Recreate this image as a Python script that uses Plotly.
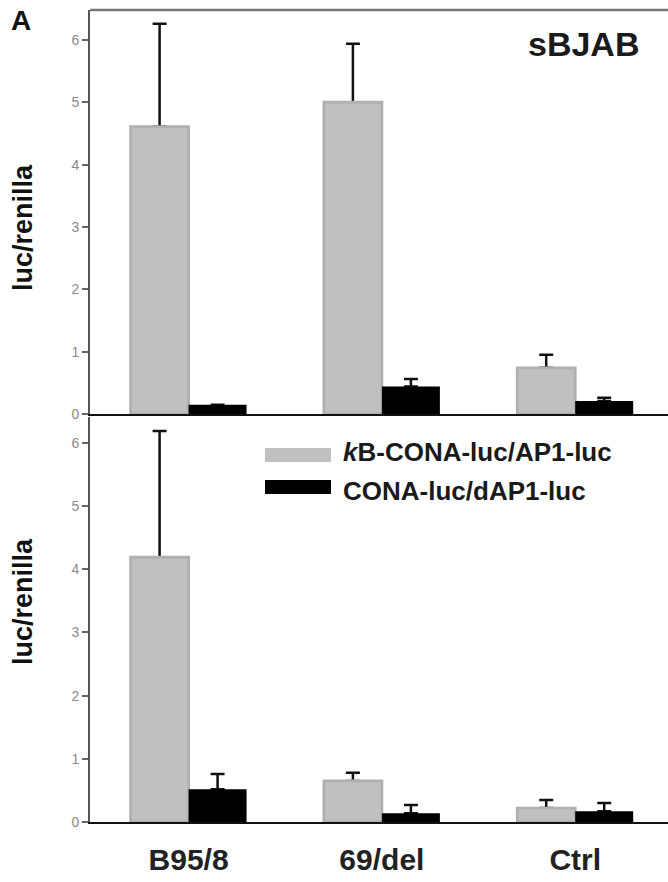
import plotly.graph_objects as go

categories = ["B95/8", "69/del", "Ctrl"]
series_names = ["<i>k</i>B-CONA-luc/AP1-luc", "CONA-luc/dAP1-luc"]

top_kb = [4.61, 5.00, 0.74]
top_kb_err = [1.65, 0.94, 0.21]
top_cona = [0.15, 0.44, 0.21]
top_cona_err = [0.0, 0.12, 0.05]

bot_kb = [4.19, 0.65, 0.22]
bot_kb_err = [2.00, 0.13, 0.13]
bot_cona = [0.52, 0.14, 0.17]
bot_cona_err = [0.24, 0.13, 0.13]

y_ticks = [0, 1, 2, 3, 4, 5, 6]

GRAY = "#c0c0c0"
BLACK = "#000000"
W, H = 668, 882
ML, MR, MT, MB = 90, 0, 10, 60
PW = W - ML - MR
PH = H - MT - MB
FONT = "Liberation Sans, Arial, sans-serif"


def px_x(px):
    return (px - ML) / PW


def px_y(py):
    return (H - MB - py) / PH


fig = go.Figure()

err_style = dict(type="data", symmetric=False, color="#111", thickness=2.5, width=7)

panels = [
    ("x", "y", "y3", top_kb, top_kb_err, top_cona, top_cona_err),
    ("x2", "y2", "y4", bot_kb, bot_kb_err, bot_cona, bot_cona_err),
]
for xa, ya_err, ya_bar, kb, kbe, co, coe in panels:
    # error bars on the base subplot (drawn underneath)
    for vals, errs, grp in ((kb, kbe, "kb"), (co, coe, "cona")):
        fig.add_trace(go.Bar(
            x=categories, y=vals, offsetgroup=grp, xaxis=xa, yaxis=ya_err,
            marker=dict(color="rgba(0,0,0,0)", line=dict(width=0)),
            error_y=dict(array=errs, arrayminus=[0] * len(errs), **err_style),
            showlegend=False, hoverinfo="skip",
        ))
    # real bars on the overlaying subplot (drawn on top, hiding the lower caps)
    fig.add_trace(go.Bar(
        x=categories, y=kb, name=series_names[0], offsetgroup="kb", xaxis=xa, yaxis=ya_bar,
        marker=dict(color=GRAY, line=dict(color="#b0b0b0", width=2.8)), showlegend=False,
    ))
    fig.add_trace(go.Bar(
        x=categories, y=co, name=series_names[1], offsetgroup="cona", xaxis=xa, yaxis=ya_bar,
        marker=dict(color=BLACK, line=dict(width=0)), showlegend=False,
    ))

xcommon = dict(range=[-0.51, 2.48], showline=True, linecolor="#111", linewidth=2, ticks="", showgrid=False,
               zeroline=False, domain=[0, 1])
ycommon = dict(showline=True, linecolor="#555", linewidth=2, ticks="outside", ticklen=6, tickwidth=1.5,
               tickcolor="#666", tickvals=y_ticks, showgrid=False, zeroline=False,
               tickfont=dict(size=14, color="#8a8a8a", family=FONT))
top_range = [0, 6.48]
bot_range = [0, 6.41]
top_dom = [px_y(414), 1]
bot_dom = [0, px_y(417)]

fig.update_layout(
    width=W, height=H,
    margin=dict(l=ML, r=MR, t=MT, b=MB),
    paper_bgcolor="white", plot_bgcolor="white",
    barmode="group", bargap=0.4, bargroupgap=0,
    font=dict(family=FONT),
    xaxis=dict(anchor="y", showticklabels=False, **xcommon),
    xaxis2=dict(anchor="y2", showticklabels=True, tickfont=dict(size=30, color="#222", family=FONT),
                tickprefix="<b>", ticksuffix="</b>", ticklabelstandoff=10, **xcommon),
    yaxis=dict(anchor="x", domain=top_dom, range=top_range, **ycommon),
    yaxis2=dict(anchor="x2", domain=bot_dom, range=bot_range, **ycommon),
    yaxis3=dict(anchor="x", overlaying="y", range=top_range, visible=False),
    yaxis4=dict(anchor="x2", overlaying="y2", range=bot_range, visible=False),
)

# top border of top panel
fig.add_shape(type="line", xref="paper", yref="paper", x0=0, x1=1, y0=1, y1=1,
              line=dict(color="#777", width=2.5))

# y axis titles
for cy in (228, 602):
    fig.add_annotation(text="<b>luc/renilla</b>", xref="paper", yref="paper", x=px_x(23), y=px_y(cy),
                       textangle=-90, showarrow=False, font=dict(size=27, color="#111"),
                       xanchor="center", yanchor="middle")

# panel letter
fig.add_annotation(text="<b>A</b>", xref="paper", yref="paper", x=px_x(21), y=px_y(20), showarrow=False,
                   font=dict(size=28, color="#111"), xanchor="center", yanchor="middle")

# cell label
fig.add_annotation(text="<b>sBJAB</b>", xref="paper", yref="paper", x=px_x(641), y=px_y(44), showarrow=False,
                   font=dict(size=34, color="#1a1a1a"), xanchor="right", yanchor="middle")

# legend (drawn manually)
legend_rows = [(GRAY, series_names[0], 455, 452), (BLACK, series_names[1], 487, 491)]
for color, name, sy, ty in legend_rows:
    fig.add_shape(type="rect", xref="paper", yref="paper", x0=px_x(265), x1=px_x(331),
                  y0=px_y(sy + 7), y1=px_y(sy - 7), fillcolor=color, line=dict(width=0))
    fig.add_annotation(text="<b>" + name + "</b>", xref="paper", yref="paper", x=px_x(341), y=px_y(ty),
                       showarrow=False, font=dict(size=26, color="#1a1a1a"), xanchor="left", yanchor="middle")

fig.write_html("out.html")
